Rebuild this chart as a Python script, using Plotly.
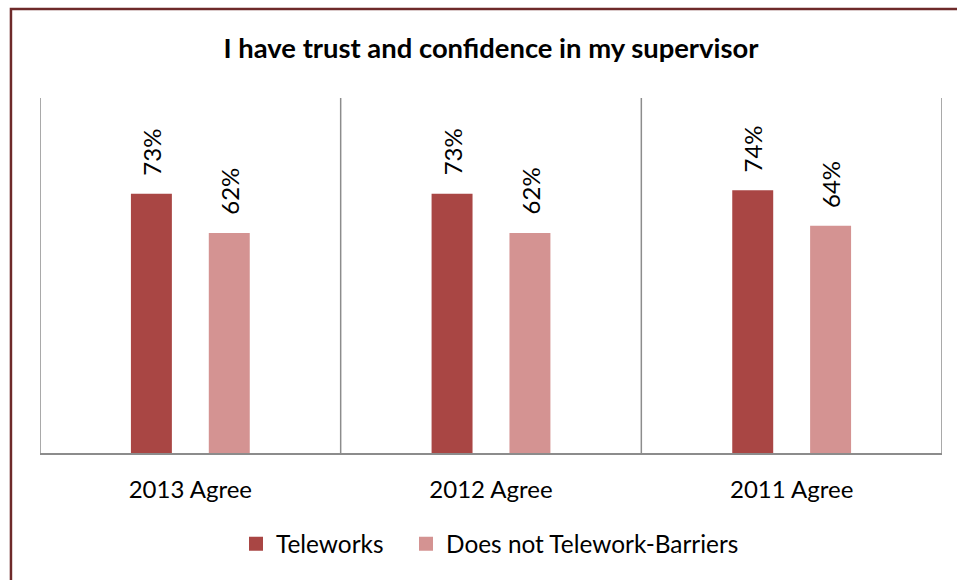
import plotly.graph_objects as go

# Survey results: share of respondents who agree
categories = ["2013 Agree", "2012 Agree", "2011 Agree"]
teleworks = [73, 73, 74]
no_telework = [62, 62, 64]
series_names = ["Teleworks", "Does not Telework-Barriers"]
colors = ["#A94644", "#D49392"]
title_text = "I have trust and confidence in my supervisor"

FONT = "Lato, 'Open Sans', sans-serif"

fig = go.Figure()
for name, vals, col in zip(series_names, [teleworks, no_telework], colors):
    fig.add_trace(go.Bar(
        name=name, x=categories, y=vals, marker_color=col,
        marker_line_width=0, showlegend=False, legendgroup=name,
    ))
# Legend keys drawn as larger square swatches, one legend box per series
for name, col, lg in zip(series_names, colors, ["legend", "legend2"]):
    fig.add_trace(go.Scatter(
        name=name, x=[None], y=[None], mode="markers", legendgroup=name,
        marker=dict(symbol="square", size=14, color=col), legend=lg,
    ))

# Rotated value labels above each bar
offsets = [-39, 39]
annotations = []
for vals, dx in zip([teleworks, no_telework], offsets):
    for c, v in zip(categories, vals):
        annotations.append(dict(
            x=c, y=v, xref="x", yref="y", text=f"{v}%", showarrow=False,
            textangle=-90, xshift=dx, yshift=16, yanchor="bottom",
            xanchor="center", font=dict(family=FONT, size=24, color="#000"),
        ))

# Category separators and plot frame
shapes = []
for xb in [-0.5, 0.5, 1.5, 2.5]:
    shapes.append(dict(type="line", xref="x", yref="paper", x0=xb, x1=xb,
                       y0=0, y1=1, line=dict(color="#8C8C8C", width=1.5)))
# Outer chart border
shapes.append(dict(type="rect", xref="paper", yref="paper",
                   x0=-0.0322, x1=1.2, y0=-0.6, y1=1.2507,
                   line=dict(color="#6E2A2A", width=2.5), layer="below"))

legend_style = dict(orientation="h", xanchor="left", y=-0.256, yanchor="middle",
                    font=dict(size=24.4, family=FONT, color="#000"),
                    itemwidth=30, bgcolor="rgba(0,0,0,0)")

fig.update_layout(
    width=957, height=580,
    margin=dict(l=40, r=15, t=98, b=127),
    paper_bgcolor="white", plot_bgcolor="white",
    barmode="group", bargap=0.482, bargroupgap=0.474,
    title=dict(text=f"<b>{title_text}</b>", x=491 / 957, xanchor="center",
               y=1 - 48 / 580, yanchor="middle",
               font=dict(family=FONT, size=27.4, color="#000")),
    font=dict(family=FONT, color="#000"),
    xaxis=dict(showgrid=False, showline=True, linecolor="#8C8C8C", linewidth=1.5,
               ticks="", tickfont=dict(size=24, family=FONT, color="#000"),
               ticklabelstandoff=14, range=[-0.5, 2.5]),
    yaxis=dict(range=[0, 100], showgrid=False, showticklabels=False,
               zeroline=False, showline=False, ticks=""),
    legend=dict(x=(236 - 40) / 902, **legend_style),
    legend2=dict(x=(406 - 40) / 902, **legend_style),
    annotations=annotations,
    shapes=shapes,
)

fig.write_html("out.html")
